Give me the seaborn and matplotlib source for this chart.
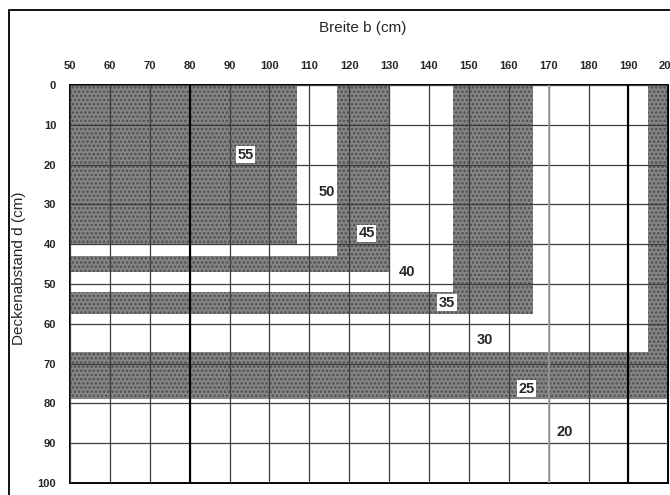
import matplotlib
matplotlib.use('Agg')
import matplotlib.pyplot as plt
from matplotlib.patches import Rectangle
import seaborn as sns

# zone value (cm) and the limits of each L-shaped zone
zones = [55, 50, 45, 40, 35, 30, 25, 20]
b_max = [107, 117, 130, 146, 166, 195, 200, 200]
d_max = [40, 43, 47, 52, 57.5, 67, 79, 100]
shaded = [True, False, True, False, True, False, True, False]

# where the zone numbers sit
label_b = [94, 114.3, 124.4, 134.4, 144.5, 154.1, 164.4, 174.1]
label_d = [17.5, 27, 37.3, 47, 54.7, 64.1, 76.3, 87.1]

b_ticks = list(range(50, 201, 10))
d_ticks = list(range(0, 101, 10))

sns.set_style('white')
plt.rcParams['font.family'] = ['Liberation Sans', 'DejaVu Sans']
plt.rcParams['hatch.linewidth'] = 1.2

fig = plt.figure(figsize=(6.7, 4.95), dpi=100)
ax = fig.add_axes([0.1045, 0.0245, 0.893, 0.8038])

# biggest zone first, smaller ones painted over it
for z, b, d, s in reversed(list(zip(zones, b_max, d_max, shaded))):
    if s:
        ax.bar(50, d, width=b - 50, bottom=0, align='edge', color='#858585',
               edgecolor='#4e4e4e', linewidth=0, hatch='....', zorder=1)
    else:
        ax.bar(50, d, width=b - 50, bottom=0, align='edge', color='white',
               linewidth=0, zorder=1)

for z, x, y, s in zip(zones, label_b, label_d, shaded):
    box = dict(facecolor='white', edgecolor='none', pad=1.0) if s else None
    ax.text(x, y, str(z), ha='center', va='center', fontsize=10.5,
            fontweight='bold', bbox=box, zorder=4)

ax.set_xlim(50, 200)
ax.set_ylim(100, 0)
ax.set_xticks(b_ticks)
ax.set_yticks(d_ticks)
ax.xaxis.tick_top()
ax.tick_params(length=0, labelsize=8, pad=10)
for t in ax.get_xticklabels() + ax.get_yticklabels():
    t.set_fontweight('bold')

ax.grid(True, color='#3c3c3c', linewidth=0.9)
ax.set_axisbelow(False)
ax.axvline(80, color='black', linewidth=1.5, zorder=2.6)
ax.axvline(190, color='black', linewidth=1.5, zorder=2.6)
ax.axvline(170, color='#a0a0a0', linewidth=1.2, zorder=2.6)

for sp in ax.spines.values():
    sp.set_color('black')
    sp.set_linewidth(1.4)

ax.xaxis.set_label_position('top')
ax.set_xlabel('Breite b (cm)', fontsize=11)
ax.xaxis.set_label_coords(0.49, 1.133)
ax.set_ylabel('Deckenabstand d (cm)', fontsize=11)
ax.yaxis.set_label_coords(-0.073, 0.54)

fig.patches.append(Rectangle((0.0134, -0.2), 1.5, 1.18, transform=fig.transFigure,
                             fill=False, edgecolor='black', linewidth=1.3))

fig.savefig('out.png', dpi=100)
